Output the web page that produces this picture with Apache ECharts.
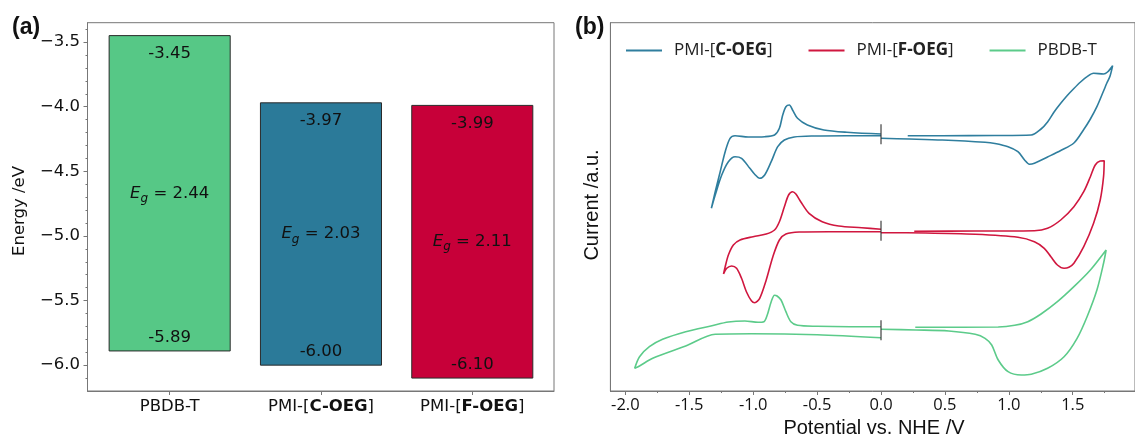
<!DOCTYPE html>
<html>
<head>
<meta charset="utf-8">
<script src="https://cdn.jsdelivr.net/npm/echarts@6/dist/echarts.min.js"></script>
<style>
html,body{margin:0;padding:0;background:#fff;}
#chart{width:1135px;height:438px;}
</style>
</head>
<body>
<div id="chart"></div>
<script>
// ---------- Panel (a) data ----------
const categories = ['PBDB-T', 'PMI-[C-OEG]', 'PMI-[F-OEG]'];
const lumo = [-3.45, -3.97, -3.99];
const homo = [-5.89, -6.00, -6.10];
const gaps = [2.44, 2.03, 2.11];
const energyTicks = [-6.0, -5.5, -5.0, -4.5, -4.0, -3.5];
const energyMinorTicks = [-6.1, -6.0, -5.9, -5.8, -5.7, -5.6, -5.5, -5.4, -5.3, -5.2, -5.1, -5.0, -4.9, -4.8, -4.7, -4.6, -4.5, -4.4, -4.3, -4.2, -4.1, -4.0, -3.9, -3.8, -3.7, -3.6, -3.5, -3.4];

// ---------- Panel (b) data ----------
const potentialTicks = [-2.0, -1.5, -1.0, -0.5, 0.0, 0.5, 1.0, 1.5];
const potentialMinorTicks = [-2.0, -1.75, -1.5, -1.25, -1.0, -0.75, -0.5, -0.25, 0, 0.25, 0.5, 0.75, 1.0, 1.25, 1.5, 1.75];
const seriesNames = ['PMI-[C-OEG]', 'PMI-[F-OEG]', 'PBDB-T'];

const cOegLeft = [
  [0, 2.553], [-0.267, 2.553], [-0.524, 2.55], [-0.679, 2.54], [-0.756, 2.51], [-0.808, 2.443],
  [-0.859, 2.293], [-0.910, 2.16], [-0.949, 2.127], [-0.99, 2.17], [-1.026, 2.227], [-1.091, 2.327],
  [-1.142, 2.343], [-1.194, 2.293], [-1.246, 2.16], [-1.297, 1.96], [-1.327, 1.827],
  [-1.297, 1.993], [-1.258, 2.193], [-1.219, 2.393], [-1.181, 2.527], [-1.142, 2.553],
  [-1.039, 2.54], [-0.910, 2.543], [-0.833, 2.56], [-0.795, 2.627], [-0.769, 2.76], [-0.744, 2.843],
  [-0.717, 2.86], [-0.692, 2.81], [-0.653, 2.727], [-0.576, 2.66], [-0.447, 2.61], [-0.267, 2.587], [0, 2.57]
];
const cOegRight = [
  [0.209, 2.553], [0.480, 2.553], [0.891, 2.555], [1.175, 2.56], [1.252, 2.62], [1.303, 2.69],
  [1.354, 2.79], [1.406, 2.877], [1.457, 2.955], [1.509, 3.025], [1.561, 3.09], [1.612, 3.143],
  [1.663, 3.177], [1.741, 3.17], [1.772, 3.19], [1.812, 3.253],
  [1.792, 3.15], [1.766, 3.077], [1.741, 3.0], [1.689, 2.843], [1.638, 2.72], [1.586, 2.615],
  [1.509, 2.48], [1.406, 2.405], [1.303, 2.34], [1.200, 2.277], [1.161, 2.267], [1.123, 2.31],
  [1.071, 2.393], [0.994, 2.443], [0.891, 2.475], [0.814, 2.487], [0.480, 2.51], [0.222, 2.52], [0, 2.527]
];
const fOegLeft = [
  [0, 1.617], [-0.151, 1.633], [-0.331, 1.65], [-0.460, 1.693], [-0.563, 1.777], [-0.628, 1.893],
  [-0.666, 1.97], [-0.692, 1.993], [-0.723, 1.96], [-0.756, 1.843], [-0.795, 1.693], [-0.833, 1.61],
  [-0.898, 1.57], [-1.001, 1.543], [-1.103, 1.51], [-1.155, 1.46], [-1.194, 1.36], [-1.219, 1.243],
  [-1.232, 1.17],
  [-1.207, 1.227], [-1.168, 1.25], [-1.130, 1.227], [-1.091, 1.127], [-1.053, 0.993], [-1.014, 0.903],
  [-0.988, 0.883], [-0.949, 0.927], [-0.898, 1.11], [-0.846, 1.343], [-0.795, 1.51], [-0.744, 1.57],
  [-0.640, 1.59], [-0.408, 1.593], [0, 1.593]
];
const fOegRight = [
  [0.260, 1.597], [0.737, 1.60], [1.200, 1.603], [1.303, 1.627], [1.406, 1.71], [1.509, 1.843],
  [1.586, 1.993], [1.638, 2.143], [1.676, 2.26], [1.715, 2.30], [1.746, 2.303],
  [1.741, 2.143], [1.715, 1.91], [1.663, 1.677], [1.586, 1.443], [1.509, 1.277], [1.470, 1.237],
  [1.432, 1.227], [1.380, 1.26], [1.329, 1.343], [1.277, 1.427], [1.200, 1.493], [1.071, 1.537],
  [0.737, 1.567], [0.351, 1.58], [0, 1.583]
];
const pbdbLeft = [
  [0, 0.643], [-0.242, 0.643], [-0.499, 0.647], [-0.653, 0.657], [-0.705, 0.693], [-0.744, 0.793],
  [-0.782, 0.91], [-0.813, 0.95], [-0.833, 0.957], [-0.859, 0.893], [-0.890, 0.76], [-0.916, 0.693],
  [-0.962, 0.687], [-1.065, 0.70], [-1.194, 0.69], [-1.323, 0.653], [-1.528, 0.593], [-1.709, 0.517],
  [-1.812, 0.443], [-1.889, 0.343], [-1.927, 0.227],
  [-1.889, 0.25], [-1.786, 0.327], [-1.528, 0.45], [-1.297, 0.567], [-1.014, 0.573], [-0.499, 0.563], [0, 0.533]
];
const pbdbRight = [
  [0.268, 0.637], [0.917, 0.64], [1.046, 0.657], [1.148, 0.693], [1.252, 0.77], [1.380, 0.893],
  [1.509, 1.043], [1.638, 1.21], [1.761, 1.41],
  [1.741, 1.277], [1.689, 1.01], [1.612, 0.743], [1.534, 0.527], [1.432, 0.343], [1.303, 0.227],
  [1.175, 0.167], [1.097, 0.16], [0.994, 0.193], [0.917, 0.31], [0.866, 0.46], [0.814, 0.527],
  [0.737, 0.567], [0.530, 0.60], [0.273, 0.61], [0, 0.617]
];
const zeroMarks = [[0, 2.567], [0, 1.603], [0, 0.607]];

// ---------- styling ----------
const barColors = ['#56c886', '#2b7a99', '#c70039'];
const lineColors = ['#2f7e9e', '#d0173f', '#5ccb8a'];
const spine = '#777777';
const fa = 'DejaVu Sans';
const fb = 'Open Sans';
const fs = 16.5;

function boldBracket(name) {
  return name.replace(/\[(.*)\]/, '[{b|$1}]');
}

const chart = echarts.init(document.getElementById('chart'), null, {renderer: 'canvas'});

const barData = categories.map((c, i) => [i, lumo[i], homo[i], gaps[i]]);

function renderBar(params, api) {
  const x = api.value(0), top = api.value(1), bot = api.value(2), gap = api.value(3);
  const p1 = api.coord([x - 0.4, top]);
  const p2 = api.coord([x + 0.4, bot]);
  const cx = (p1[0] + p2[0]) / 2;
  const pm = api.coord([x, (top + bot) / 2]);
  return {
    type: 'group',
    children: [
      {
        type: 'rect',
        shape: {x: p1[0], y: p1[1], width: p2[0] - p1[0], height: p2[1] - p1[1]},
        style: {fill: barColors[params.dataIndex], stroke: '#2a2a2a', lineWidth: 1}
      },
      {
        type: 'text',
        style: {text: top.toFixed(2), x: cx, y: p1[1] + 18, align: 'center', verticalAlign: 'middle',
          fill: '#111', fontFamily: fa, fontSize: fs}
      },
      {
        type: 'text',
        style: {text: bot.toFixed(2), x: cx, y: p2[1] - 13, align: 'center', verticalAlign: 'middle',
          fill: '#111', fontFamily: fa, fontSize: fs}
      },
      {
        type: 'text',
        style: {
          text: '{i|E}{s|g}{n| = ' + gap.toFixed(2) + '}',
          x: cx, y: pm[1], align: 'center', verticalAlign: 'middle', fill: '#111',
          fontFamily: fa, fontSize: fs,
          rich: {
            i: {fontFamily: fa, fontSize: fs, fontStyle: 'italic', fill: '#111'},
            s: {fontFamily: fa, fontSize: 12, fontStyle: 'italic', fill: '#111', padding: [11, 0, 0, 0]},
            n: {fontFamily: fa, fontSize: fs, fill: '#111'}
          }
        }
      }
    ]
  };
}

function cvLine(name, data, color) {
  return {
    name: name, type: 'line', xAxisIndex: 1, yAxisIndex: 2, data: data,
    showSymbol: false, symbol: 'none', smooth: 0.3,
    lineStyle: {color: color, width: 1.6}, itemStyle: {color: color},
    silent: true, animation: false
  };
}

const option = {
  animation: false,
  backgroundColor: '#fff',
  grid: [
    {left: 87.5, right: 1135 - 554, top: 22.7, bottom: 438 - 391, show: true, borderColor: spine, borderWidth: 1, backgroundColor: 'transparent'},
    {left: 610.4, right: -7, top: 22.7, bottom: 438 - 391, show: true, borderColor: spine, borderWidth: 1, backgroundColor: 'transparent'}
  ],
  xAxis: [
    {
      type: 'value', gridIndex: 0, position: 'bottom', min: -0.543, max: 2.54,
      splitLine: {show: false},
      axisLine: {show: true, onZero: false, lineStyle: {color: spine}},
      axisTick: {show: true, length: 4, customValues: [0, 1, 2], lineStyle: {color: spine}},
      axisLabel: {
        show: true, customValues: [0, 1, 2], margin: 7,
        formatter: v => boldBracket(categories[Math.round(v)]),
        color: '#111', fontFamily: fa, fontSize: fs,
        rich: {b: {fontFamily: fa, fontSize: fs, fontWeight: 'bold', color: '#111'}}
      }
    },
    {
      type: 'value', gridIndex: 1, position: 'bottom', min: -2.117, max: 1.987,
      splitLine: {show: false},
      axisLine: {show: true, onZero: false, lineStyle: {color: spine}},
      axisTick: {show: true, length: 4, customValues: potentialTicks, lineStyle: {color: spine}},
      axisLabel: {
        show: true, customValues: potentialTicks, margin: 6,
        formatter: v => v.toFixed(1),
        color: '#111', fontFamily: fb, fontSize: fs
      }
    },
    {
      type: 'value', gridIndex: 1, position: 'bottom', min: -2.117, max: 1.987,
      splitLine: {show: false}, axisLine: {show: false, onZero: false},
      axisTick: {show: true, length: 2, customValues: potentialMinorTicks, lineStyle: {color: spine}},
      axisLabel: {show: false}
    }
  ],
  yAxis: [
    {
      type: 'value', gridIndex: 0, position: 'left', min: -6.2, max: -3.35,
      splitLine: {show: false},
      axisLine: {show: true, onZero: false, lineStyle: {color: spine}},
      axisTick: {show: true, length: 4, customValues: energyTicks, lineStyle: {color: spine}},
      axisLabel: {
        show: true, customValues: energyTicks, margin: 7.5,
        formatter: v => v.toFixed(1).replace('-', '\u2212'),
        color: '#111', fontFamily: fa, fontSize: fs
      }
    },
    {
      type: 'value', gridIndex: 0, position: 'left', min: -6.2, max: -3.35,
      splitLine: {show: false}, axisLine: {show: false, onZero: false},
      axisTick: {show: true, length: 2, customValues: energyMinorTicks, lineStyle: {color: spine}},
      axisLabel: {show: false}
    },
    {
      type: 'value', gridIndex: 1, position: 'left', min: 0, max: 3.683,
      splitLine: {show: false},
      axisLine: {show: true, onZero: false, lineStyle: {color: spine}},
      axisTick: {show: false}, axisLabel: {show: false}
    }
  ],
  legend: {
    data: seriesNames,
    left: 621, top: 37,
    icon: 'rect',
    itemWidth: 36, itemHeight: 1.8, itemGap: 36,
    formatter: n => boldBracket(n),
    textStyle: {
      color: '#222', fontFamily: fb, fontSize: 17, padding: [0, 0, 0, 7],
      rich: {b: {fontFamily: fb, fontSize: 17, fontWeight: 'bold', color: '#222'}}
    }
  },
  graphic: [
    {type: 'text', left: 12, top: 16, style: {text: '(a)', fontFamily: 'Liberation Sans', fontWeight: 'bold', fontSize: 23, fill: '#111'}},
    {type: 'text', left: 575, top: 16, style: {text: '(b)', fontFamily: 'Liberation Sans', fontWeight: 'bold', fontSize: 23, fill: '#111'}},
    {type: 'text', x: 20, y: 211, rotation: Math.PI / 2, style: {text: 'Energy /eV', fontFamily: fa, fontSize: fs, fill: '#111', align: 'center', verticalAlign: 'middle'}},
    {type: 'text', x: 592, y: 205, rotation: Math.PI / 2, style: {text: 'Current /a.u.', fontFamily: 'Liberation Sans', fontSize: 20, fill: '#111', align: 'center', verticalAlign: 'middle'}},
    {type: 'text', x: 874, y: 428, style: {text: 'Potential vs. NHE /V', fontFamily: 'Liberation Sans', fontSize: 20, fill: '#111', align: 'center', verticalAlign: 'middle'}}
  ],
  series: [
    {
      type: 'custom', xAxisIndex: 0, yAxisIndex: 0, data: barData,
      renderItem: renderBar, silent: true
    },
    cvLine(seriesNames[0], cOegLeft, lineColors[0]),
    cvLine(seriesNames[0], cOegRight, lineColors[0]),
    cvLine(seriesNames[1], fOegLeft, lineColors[1]),
    cvLine(seriesNames[1], fOegRight, lineColors[1]),
    cvLine(seriesNames[2], pbdbLeft, lineColors[2]),
    cvLine(seriesNames[2], pbdbRight, lineColors[2]),
    {
      type: 'scatter', xAxisIndex: 1, yAxisIndex: 2, data: zeroMarks,
      symbol: 'rect', symbolSize: [1.4, 20], itemStyle: {color: '#333'}, silent: true, z: 5
    }
  ]
};
chart.setOption(option);
</script>
</body>
</html>
